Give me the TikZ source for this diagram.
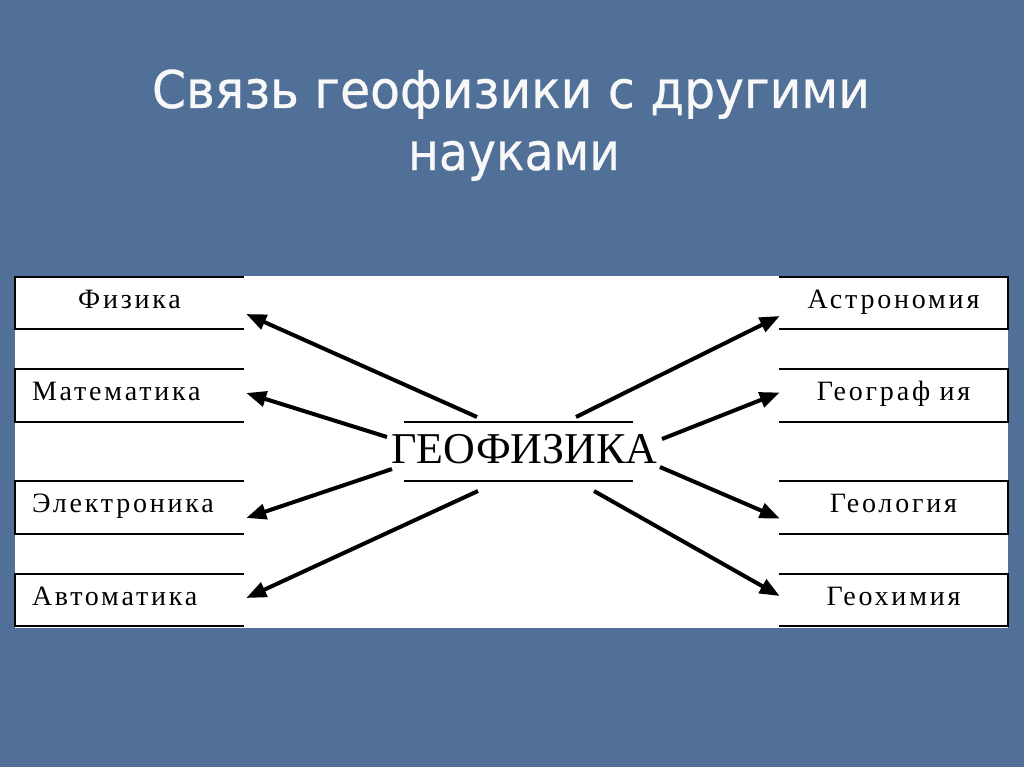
\documentclass[tikz,border=0pt]{standalone}
\usepackage{fontspec}
\usepackage{graphicx}
\setmainfont{Liberation Serif}
\newfontfamily\titlefont[FakeBold=0.6]{DejaVu Sans}
\newfontfamily\boxfont[LetterSpace=10]{Liberation Serif}
\usetikzlibrary{arrows.meta,calc}
\definecolor{bg}{RGB}{80,112,152}
\definecolor{titlecol}{RGB}{248,248,248}
\begin{document}
\begin{tikzpicture}[x=0.75pt,y=-0.75pt,
  title/.style={anchor=base,inner sep=0pt,text=titlecol,font={\titlefont\fontsize{39}{41}\selectfont}},
  sbox/.style={minimum width=171.75pt,minimum height=39pt,inner sep=0pt,inner xsep=12.75pt,
    text width=146.25pt,text height=15pt,text depth=7.5pt,font={\boxfont\fontsize{21}{24}\selectfont}},
  lbox/.style={sbox,align=left},
  rbox/.style={sbox,align=center},
  geo/.style={minimum width=171.75pt,minimum height=44.25pt,inner sep=0pt,
    text height=25pt,text depth=7.75pt,font={\fontsize{33}{36}\selectfont}},
  frame/.style={line width=1.5pt,black},
  arr/.style={line width=3pt,-{Triangle[length=15pt,width=11.5pt]}}]
\useasboundingbox (0,0) rectangle (1024,767);
\fill[bg] (0,0) rectangle (1024,767);
\fill[white] (15,276) rectangle (1008,628);

\node[title] (t1) at (511,108) {\resizebox{538.5pt}{\height}{Связь геофизики с другими}};
\node[title] (t2) at (514,170) {\resizebox{159pt}{\height}{науками}};

% left boxes
\node[lbox,align=center] (fiz) at (129.5,303) {Физика};
\node[lbox] (mat) at (129.5,395.5) {Математика};
\node[lbox] (ele) at (129.5,507.5) {Электроника};
\node[lbox] (avt) at (129.5,600) {Автоматика};
% right boxes
\node[rbox] (ast) at (893.5,303) {Астрономия};
\node[rbox] (gga) at (893.5,395.5) {Географ ия};
\node[rbox] (glg) at (893.5,507.5) {Геология};
\node[rbox] (ghm) at (893.5,600) {Геохимия};

\foreach \b in {fiz,mat,ele,avt}
  \draw[frame] (\b.north east) -- (\b.north west) -- (\b.south west) -- (\b.south east);
\foreach \b in {ast,gga,glg,ghm}
  \draw[frame] (\b.north west) -- (\b.north east) -- (\b.south east) -- (\b.south west);

% centre
\node[geo] (geo) at (518.5,451.5) {\makebox[0pt]{\hspace{9pt}ГЕОФИЗИКА}};
\draw[frame] (geo.north west) -- (geo.north east);
\draw[frame] (geo.south west) -- (geo.south east);

% arrow tails
\coordinate (s1) at (477,417);
\coordinate (s2) at (387,437);
\coordinate (s3) at (392,469);
\coordinate (s4) at (478,491);
\coordinate (s5) at (576,417);
\coordinate (s6) at (662,439);
\coordinate (s7) at (660,467);
\coordinate (s8) at (594,491);

\draw[arr] (s1) -- ($(fiz.east)+(2,11)$);
\draw[arr] (s2) -- ($(mat.east)+(2,-2.5)$);
\draw[arr] (s3) -- ($(ele.east)+(2,10.5)$);
\draw[arr] (s4) -- ($(avt.east)+(2,-2)$);
\draw[arr] (s5) -- ($(ast.west)+(1,13)$);
\draw[arr] (s6) -- ($(gga.west)+(1,-3)$);
\draw[arr] (s7) -- ($(glg.west)+(1,11)$);
\draw[arr] (s8) -- ($(ghm.west)+(1,-4)$);
\end{tikzpicture}
\end{document}
